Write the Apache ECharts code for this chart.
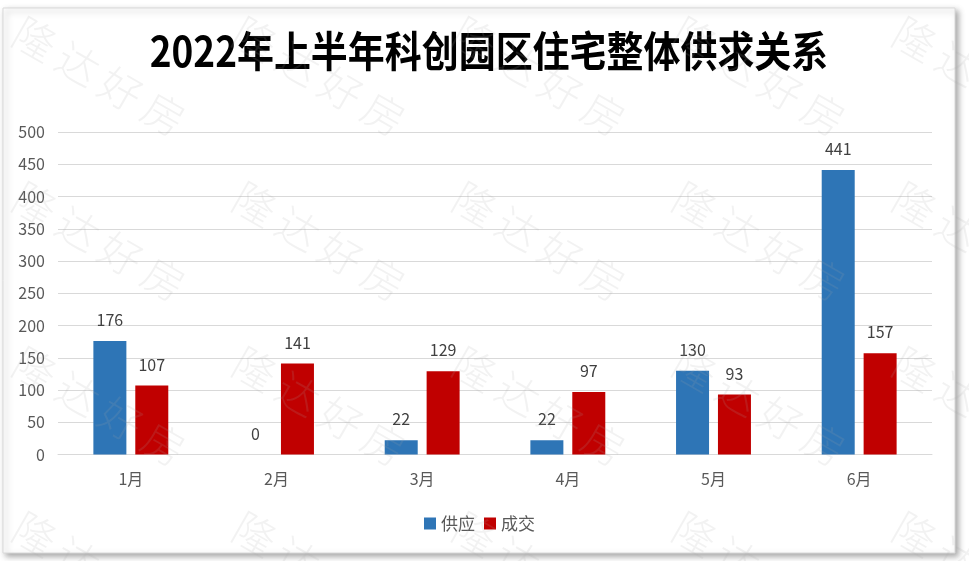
<!DOCTYPE html>
<html><head><meta charset="utf-8">
<script src="https://cdn.jsdelivr.net/npm/echarts@6/dist/echarts.min.js"></script>
<style>html,body{margin:0;padding:0;background:#fff}#c{width:969px;height:561px}</style>
</head><body><div id="c"></div>
<script>
var titleText = '2022年上半年科创园区住宅整体供求关系';
var months = ['1月','2月','3月','4月','5月','6月'];
var supply = [176, 0, 22, 22, 130, 441];
var deals = [107, 141, 129, 97, 93, 157];
var seriesNames = ['供应','成交'];
var watermark = '隆达好房';

var chart = echarts.init(document.getElementById('c'), null, {renderer:'canvas'});
var font = '"Microsoft YaHei","Noto Sans CJK SC","Noto Sans",sans-serif';
var graphics = [{
  type:'rect', shape:{x:3,y:8,width:952,height:545}, z:-10,
  style:{fill:'#fff', stroke:'#d9d9d9', lineWidth:1, shadowBlur:6, shadowColor:'rgba(0,0,0,0.35)', shadowOffsetX:3, shadowOffsetY:3}
}, {
  type:'text', x:489, y:51, scaleX:0.88, z:50,
  style:{text:titleText, fill:'#000', font:'bold 42px "Noto Sans CJK SC", sans-serif', textAlign:'center', textVerticalAlign:'middle'}
}];
var wmChars = watermark.split('');
for (var r = 0; r < 4; r++) {
  for (var c = 0; c < 5; c++) {
    for (var k = 0; k < wmChars.length; k++) {
      graphics.push({
        type:'text', x: 35 + c*220 + k*43, y: 39 + r*165 + k*25, rotation: -0.52, z: 100, silent:true,
        style:{text: wmChars[k], fill:'rgba(170,170,170,0.15)', font:'300 42px "Noto Sans CJK SC", sans-serif', textAlign:'center', textVerticalAlign:'middle'}
      });
    }
  }
}
var option = {
  backgroundColor:'#fff',
  animation:false,
  legend:{data:seriesNames, left:419, top:510, itemWidth:12, itemHeight:12, itemGap:9, icon:'rect',
    textStyle:{fontSize:17, color:'#595959', fontFamily:font}},
  grid:{left:58, right:37, top:132, bottom:106.5, containLabel:false},
  xAxis:{type:'category', data:months,
    axisLine:{lineStyle:{color:'#d9d9d9', width:1}}, axisTick:{show:false},
    axisLabel:{fontSize:16, color:'#595959', margin:16, fontFamily:font}},
  yAxis:{type:'value', min:0, max:500, interval:50,
    axisLine:{show:false}, axisTick:{show:false},
    splitLine:{lineStyle:{color:'#d9d9d9', width:1}},
    axisLabel:{fontSize:16, color:'#595959', margin:13, fontFamily:font}},
  series:[
    {name:seriesNames[0], type:'bar', data:supply, barWidth:33, barGap:'27%',
     itemStyle:{color:'#2E75B6'},
     label:{show:true, position:'top', distance:13, fontSize:16, color:'#404040', fontFamily:font}},
    {name:seriesNames[1], type:'bar', data:deals, barWidth:33,
     itemStyle:{color:'#C00000'},
     label:{show:true, position:'top', distance:13, fontSize:16, color:'#404040', fontFamily:font}}
  ],
  graphic: graphics
};
chart.setOption(option);
</script></body></html>
